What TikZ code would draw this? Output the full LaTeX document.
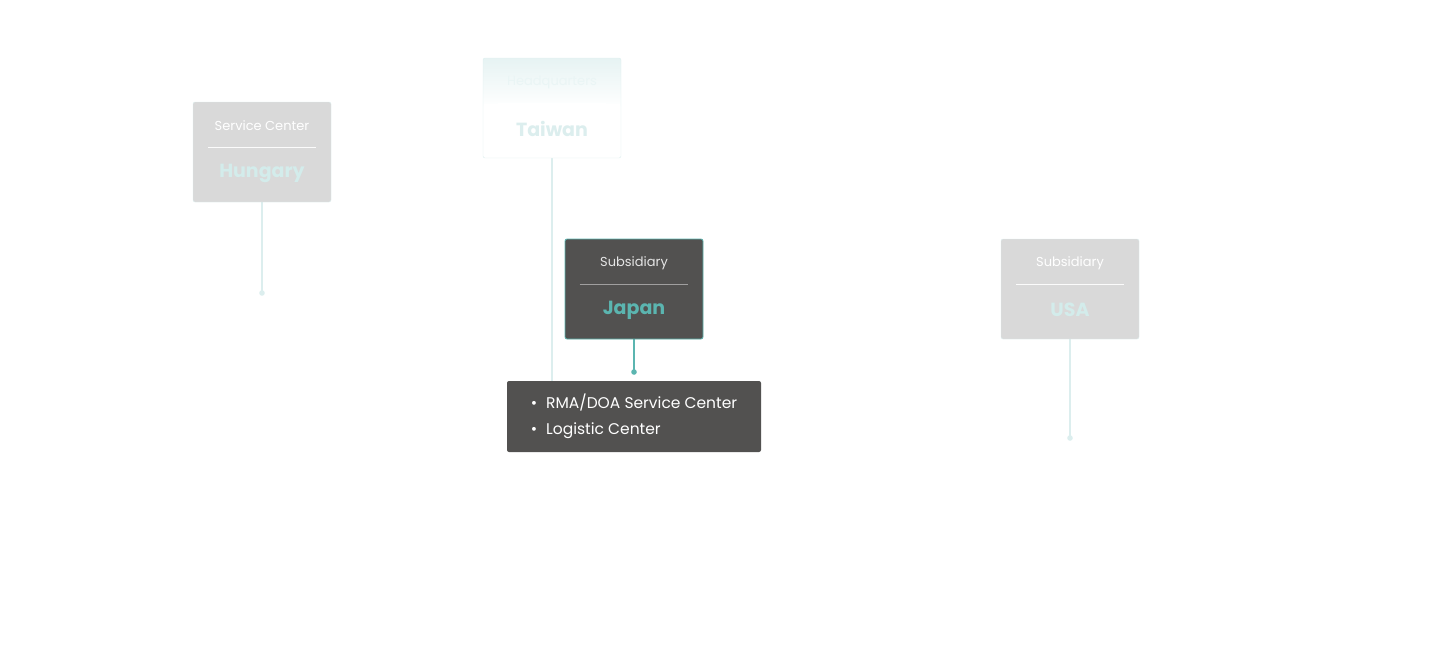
\documentclass[tikz,border=0pt]{standalone}
\usepackage{fontspec}
\setmainfont{Poppins}
\usetikzlibrary{positioning}
\definecolor{tealc}{HTML}{5BB5B0}
\definecolor{palet}{HTML}{D3ECEB}
\definecolor{greyc}{HTML}{D9D9D9}
\definecolor{darkc}{HTML}{525150}
\definecolor{linec}{HTML}{DCEEEE}
\begin{document}
\begin{tikzpicture}[x=1pt,y=-1pt,
  sitenode/.style={rectangle, rounded corners=2pt, minimum width=138pt, minimum height=100pt, inner sep=0pt},
  greynode/.style={sitenode, fill=greyc, draw=linec},
  titlenode/.style={font=\fontsize{19}{19}\selectfont\bfseries, inner sep=0pt},
  subnode/.style={font=\fontsize{13}{13}\selectfont, inner sep=0pt},
  link/.style={draw=linec, line width=1.3pt},
  ]
  \useasboundingbox (0,0) rectangle (1440,649);
  % Lines
  \coordinate (hudot) at (262,293);
  \coordinate (usdot) at (1070,438);
  \coordinate (jpdot) at (634,372);
  \coordinate (twend) at (552,382);
  \draw[link] (262,202) -- (hudot);
  \fill[linec] (hudot) circle (2.8pt);
  \draw[link] (1070,339) -- (usdot);
  \fill[linec] (usdot) circle (2.8pt);
  \draw[link] (552,158) -- (twend);
  \draw[tealc, line width=1.3pt] (634,339) -- (jpdot);
  \fill[tealc] (jpdot) circle (2.8pt);
  % Nodes
  \node[greynode] (hungary) at (262,152) {};
  \node[sitenode, draw=linec, top color=linec!70, bottom color=white, middle color=white, shading angle=0] (taiwan) at (552,108) {};
  \fill[white] (484,104) rectangle (620,157);
  \node[sitenode, fill=darkc, draw=tealc, line width=0.8pt] (japan) at (634,289) {};
  \node[greynode] (usa) at (1070,289) {};
  \foreach \n/\t/\s/\tc/\sc/\lc in {hungary/Hungary/Service Center/palet/white/white!90!greyc,
      taiwan/Taiwan/Headquarters/linec/linec!60!white/white,
      japan/Japan/Subsidiary/tealc/white!85!darkc/white!45!darkc,
      usa/USA/Subsidiary/palet/white/white!90!greyc} {
    \node[titlenode, text=\tc] (\n-title) at ([yshift=-21pt]\n.center) {\t};
    \node[subnode, text=\sc] (\n-sub) at ([yshift=26pt]\n.center) {\s};
    \draw[\lc, line width=0.6pt] ([xshift=15pt,yshift=5pt]\n.west) -- ([xshift=-15pt,yshift=5pt]\n.east);
  }
  \node[rectangle, rounded corners=2pt, fill=darkc, minimum width=254pt, minimum height=71pt,
    text=white, font=\fontsize{15.5}{26}\selectfont, align=left, inner sep=0pt] (info) at (634,416.5)
    {\textbullet\hspace{9pt}RMA/DOA Service Center\\ \textbullet\hspace{9pt}Logistic Center\hspace{79pt}};
\end{tikzpicture}
\end{document}
